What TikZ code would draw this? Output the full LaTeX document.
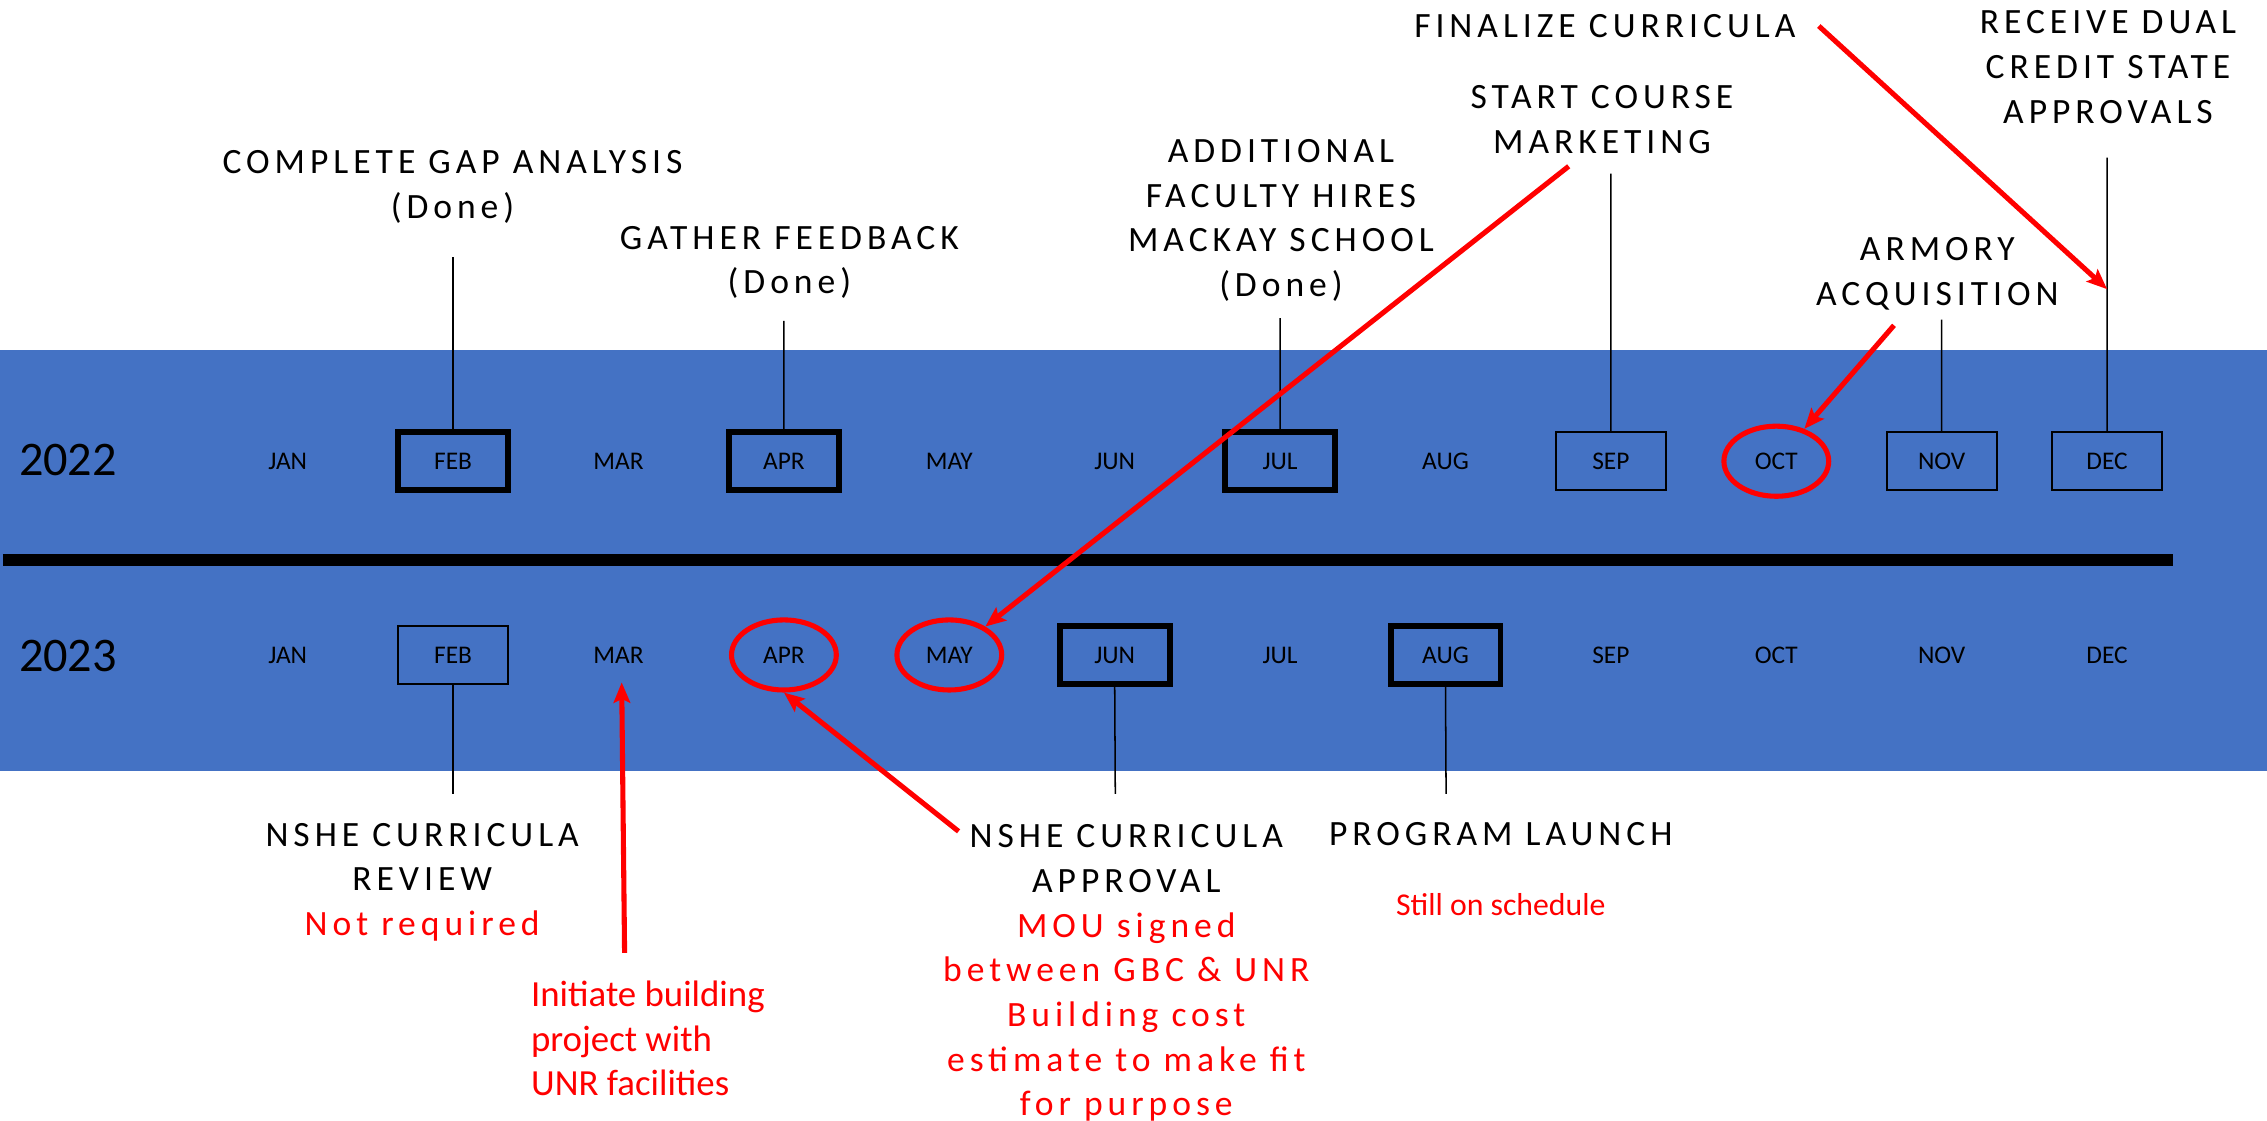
\documentclass[tikz,border=0pt]{standalone}
\usepackage{fontspec}
\setmainfont{Carlito}
\newfontfamily\spacedfont[LetterSpace=14]{Carlito}
\usetikzlibrary{arrows.meta}
\usetikzlibrary{shapes.geometric}
\definecolor{bandblue}{HTML}{4472C4}
\tikzset{
	>={Stealth[length=8pt,width=6.5pt,inset=1.5pt]},
	month/.style={
		inner sep=0pt,
		font=\fontsize{10}{12}\selectfont},
	nobox/.style={},
	thickbox/.style={
		rectangle,
		draw=black, line width=2.3pt,
		minimum width=1.52cm,
		minimum height=0.8cm},
	thinbox/.style={
		rectangle,
		draw=black, line width=0.8pt,
		minimum width=1.52cm,
		minimum height=0.8cm},
	redring/.style={
		ellipse,
		draw=red, line width=2pt,
		minimum width=1.45cm,
		minimum height=0.97cm},
	year/.style={
		inner sep=0pt,
		font=\fontsize{19}{22}\selectfont},
	milestone/.style={
		anchor=north,
		align=center,
		inner sep=0pt,
		font=\spacedfont\fontsize{14}{17.6}\selectfont},
	rednote/.style={
		inner sep=0pt,
		text=red},
	stem/.style={draw, line width=0.6pt},
	redarrow/.style={draw=red, line width=2pt, ->},
}

\begin{document}
\begin{tikzpicture}[x=0.02cm, y=-0.02cm]
	\useasboundingbox (0,0) rectangle (1568,775);
	% band and divider
	\fill[bandblue] (0,242) rectangle (1568,533);
	\draw[line width=4.7pt] (2,387.5) -- (1503,387.5);
	\node[year] (y22) at (47,318) {2022};
	\node[year] (y23) at (47,454) {2023};
	% months
	\foreach \m/\s [count=\i] in {JAN/nobox, FEB/thickbox, MAR/nobox, APR/thickbox, MAY/nobox, JUN/nobox, JUL/thickbox, AUG/nobox, SEP/thinbox, OCT/redring, NOV/thinbox, DEC/thinbox}
		\node[month,\s] (m22-\i) at ({199+114.4*(\i-1)},319) {\m};
	\foreach \m/\s [count=\i] in {JAN/nobox, FEB/thinbox, MAR/nobox, APR/redring, MAY/redring, JUN/thickbox, JUL/nobox, AUG/thickbox, SEP/nobox, OCT/nobox, NOV/nobox, DEC/nobox}
		\node[month,\s] (m23-\i) at ({199+114.4*(\i-1)},453) {\m};
	% milestones 2022
	\node[milestone] (gap) at (313,104) {COMPLETE GAP ANALYSIS\\(Done)};
	\node[milestone] (feedback) at (546,156) {GATHER FEEDBACK\\(Done)};
	\node[milestone] (hires) at (886,96) {ADDITIONAL\\FACULTY HIRES\\MACKAY SCHOOL\\(Done)};
	\node[milestone] (marketing) at (1108,59) {START COURSE\\MARKETING};
	\node[milestone, anchor=center] (finalize) at (1110,18) {FINALIZE CURRICULA};
	\node[milestone] (dual) at (1458,7) {RECEIVE DUAL\\CREDIT STATE\\APPROVALS};
	\node[milestone] (armory) at (1340,164) {ARMORY\\ACQUISITION};
	% milestones 2023
	\node[milestone] (review) at (292,569) {NSHE CURRICULA\\REVIEW\\\textcolor{red}{Not required}};
	\node[milestone] (approval) at (779,570) {NSHE CURRICULA\\APPROVAL\\\textcolor{red}{MOU signed}\\\textcolor{red}{between GBC \& UNR}\\\textcolor{red}{Building cost}\\\textcolor{red}{estimate to make fit}\\\textcolor{red}{for purpose}};
	\node[milestone, anchor=center] (launch) at (1038,577) {PROGRAM LAUNCH};
	\node[rednote, font=\fontsize{12.5}{15}\selectfont] (schedule) at (1038,626) {Still on schedule};
	\node[rednote, anchor=north west, align=left, font=\fontsize{14.5}{17.6}\selectfont] (building) at (367,678) {Initiate building\\project with\\UNR facilities};
	% stem ends
	\coordinate (gaptop) at (313.4,178);
	\coordinate (feedbacktop) at (542.2,222);
	\coordinate (hirestop) at (885.4,220);
	\coordinate (marketingtop) at (1114.2,120);
	\coordinate (armorytop) at (1343,221);
	\coordinate (dualtop) at (1457.4,109);
	\coordinate (reviewtop) at (313.4,549);
	\coordinate (approvaltop) at (771.4,549);
	\coordinate (launchtop) at (1000.2,549);
	\draw[stem] (m22-2.north) -- (gaptop);
	\draw[stem] (m22-4.north) -- (feedbacktop);
	\draw[stem] (m22-7.north) -- (hirestop);
	\draw[stem] (m22-9.north) -- (marketingtop);
	\draw[stem] (m22-11.north) -- (armorytop);
	\draw[stem] (m22-12.north) -- (dualtop);
	\draw[stem] (m23-2.south) -- (reviewtop);
	\draw[stem] (m23-6.south) -- (approvaltop);
	\draw[stem] (m23-8.south) -- (launchtop);
	% red arrows
	\coordinate (mktfoot) at (1085,115);
	\coordinate (finend) at (1258,18);
	\coordinate (dectip) at (1457.4,200);
	\coordinate (armfoot) at (1310,225);
	\coordinate (bldtop) at (432,659);
	\coordinate (marfoot) at (430,472);
	\coordinate (apprfoot) at (663,575);
	\draw[redarrow] (mktfoot) -- (m23-5);
	\draw[redarrow] (finend) -- (dectip);
	\draw[redarrow] (armfoot) -- (m22-10);
	\draw[redarrow] (bldtop) -- (marfoot);
	\draw[redarrow] (apprfoot) -- (m23-4.south);
\end{tikzpicture}
\end{document}
